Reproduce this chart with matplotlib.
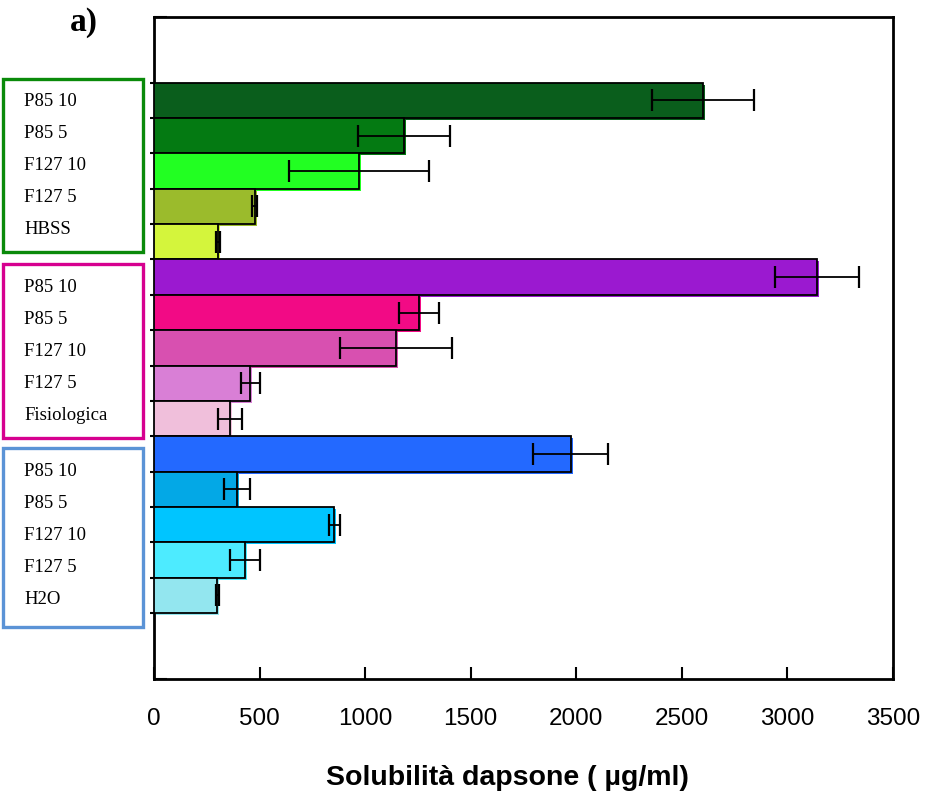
import matplotlib
matplotlib.use("Agg")
import matplotlib.pyplot as plt
from matplotlib.patches import Rectangle
from matplotlib.transforms import offset_copy
import numpy as np

# Dapsone solubility (µg/ml) in three media, top to bottom
media = ["HBSS", "Fisiologica", "H2O"]
formulations = ["P85 10", "P85 5", "F127 10", "F127 5"]

hbss_vals = [2600, 1185, 972, 476, 302]
hbss_err = [240, 217, 332, 10, 9]
fisio_vals = [3140, 1256, 1145, 457, 360]
fisio_err = [201, 95, 264, 47, 55]
h2o_vals = [1973, 392, 854, 431, 300]
h2o_err = [178, 61, 25, 71, 8]

hbss_colors = ["#0A5E1C", "#047A12", "#22FF22", "#9BBB2C", "#D4F53C"]
fisio_colors = ["#9B19D0", "#F20A85", "#D850B0", "#D97FD6", "#F0BFDB"]
h2o_colors = ["#2369FF", "#03A8E6", "#00C5FF", "#4DEBFF", "#93E6EF"]

box_colors = ["#0A8A0A", "#D6008F", "#5B93D6"]

x_ticks = [0, 500, 1000, 1500, 2000, 2500, 3000, 3500]

values = hbss_vals + fisio_vals + h2o_vals
errors = hbss_err + fisio_err + h2o_err
colors = hbss_colors + fisio_colors + h2o_colors
group_labels = [formulations + [m] for m in media]

W, H = 925, 800
fig = plt.figure(figsize=(W / 100, H / 100), dpi=100)
ax = fig.add_axes([154 / W, 1 - 679 / H, (893 - 154) / W, (679 - 16.7) / H])

pos = np.arange(len(values))
# soft colour spill slightly right/below each outlined bar
spill = offset_copy(ax.transData, fig=fig, x=2, y=-2, units="dots")
ax.barh(pos, values, height=1.0, color=colors, edgecolor="none",
        transform=spill, zorder=2)
ax.barh(pos, values, height=1.0, color=colors, edgecolor="black",
        linewidth=1.3, zorder=3)
ax.errorbar(values, pos, xerr=errors, fmt="none", ecolor="black",
            elinewidth=1.3, capsize=8, capthick=1.6, zorder=4)

ax.set_xlim(0, 3500)
ax.set_ylim(len(values) - 0.5 + 1.87, -0.5 - 1.87)

ax.set_xticks(x_ticks)
ax.set_xticklabels([str(t) for t in x_ticks], fontfamily="Liberation Sans",
                   fontsize=17.5)
ax.tick_params(axis="x", direction="in", length=9, width=1.5, pad=21)

ax.set_yticks(np.arange(len(values) + 1) - 0.5)
ax.set_yticklabels([])
ax.tick_params(axis="y", which="major", direction="out", length=3, width=1.5)
ax.set_yticks(list(ax.get_ylim()), minor=True)
ax.tick_params(axis="y", which="minor", direction="in", length=9, width=1.5)

for s in ax.spines.values():
    s.set_linewidth(2)
    s.set_color("black")

# grouped label boxes on the left
box_geom = [(79, 252), (264, 437.7), (448, 627)]
label_y = [[101, 133.3, 165.7, 197.7, 230],
           [287.7, 319.3, 351, 383.3, 416],
           [471.7, 503.3, 536, 567.3, 600]]
for (top, bot), col, labs, ys in zip(box_geom, box_colors, group_labels, label_y):
    fig.patches.append(Rectangle((3 / W, 1 - bot / H), (143 - 3) / W, (bot - top) / H,
                                 transform=fig.transFigure, fill=False,
                                 edgecolor=col, linewidth=2.4))
    for lab, y in zip(labs, ys):
        fig.text(24 / W, 1 - y / H, lab, fontfamily="Liberation Serif",
                 fontsize=13.5, ha="left", va="center")

fig.text(84 / W, 1 - 22 / H, "a)", fontfamily="Liberation Serif",
         fontweight="bold", fontsize=24, ha="center", va="center")
fig.text(507 / W, 1 - 778 / H, "Solubilità dapsone ( µg/ml)",
         fontfamily="Liberation Sans", fontweight="bold", fontsize=20.5,
         ha="center", va="center")

fig.savefig("out.png", dpi=100)
